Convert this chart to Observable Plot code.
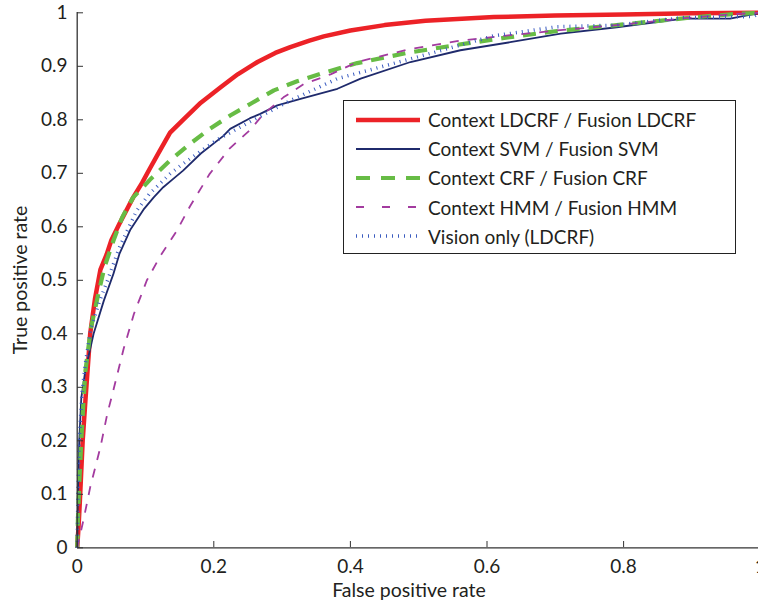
<!DOCTYPE html>
<html>
<head>
<meta charset="utf-8">
<script src="https://cdn.jsdelivr.net/npm/d3@7"></script>
<script src="https://cdn.jsdelivr.net/npm/@observablehq/plot@0.6"></script>
<style>
  html, body { margin: 0; padding: 0; background: #fff; }
  #wrap { position: relative; width: 758px; height: 606px; overflow: hidden; font-family: Lato, "DejaVu Sans", sans-serif; }
  #legend { position: absolute; left: 343px; top: 100px; width: 393px; height: 154px; border: 1.5px solid #222; background: #fff; box-sizing: border-box; }
  .row { position: absolute; left: 0; height: 29px; display: flex; align-items: center; }
  .row svg { margin-left: 12px; }
  .row span { margin-left: 8px; font-size: 19px; color: #231f20; white-space: nowrap; }
</style>
</head>
<body>
<div id="wrap"><div id="chart"></div><div id="legend"></div></div>
<script>
// ---- data ----
const seriesNames = ["Context LDCRF / Fusion LDCRF", "Context SVM / Fusion SVM", "Context CRF / Fusion CRF", "Context HMM / Fusion HMM", "Vision only (LDCRF)"];

const fprLDCRF = [0, 0.002, 0.004, 0.008, 0.012, 0.019, 0.026, 0.034, 0.043, 0.05, 0.062, 0.075, 0.082, 0.095, 0.106, 0.12, 0.136, 0.155, 0.181, 0.21, 0.235, 0.264, 0.29, 0.312, 0.34, 0.361, 0.4, 0.45, 0.51, 0.61, 0.7, 0.8, 0.9, 1.0];
const tprLDCRF = [0, 0.04, 0.09, 0.2, 0.275, 0.4, 0.465, 0.52, 0.548, 0.575, 0.606, 0.638, 0.655, 0.682, 0.708, 0.74, 0.776, 0.8, 0.832, 0.861, 0.885, 0.908, 0.925, 0.936, 0.948, 0.956, 0.967, 0.977, 0.985, 0.992, 0.995, 0.997, 0.999, 1.0];

const fprSVM = [0, 0.001, 0.003, 0.006, 0.012, 0.024, 0.039, 0.053, 0.062, 0.078, 0.097, 0.112, 0.126, 0.141, 0.155, 0.181, 0.214, 0.224, 0.253, 0.268, 0.293, 0.327, 0.381, 0.415, 0.488, 0.561, 0.634, 0.708, 0.79, 0.888, 0.956, 0.971, 1.0];
const tprSVM = [0, 0.1, 0.2, 0.28, 0.332, 0.4, 0.462, 0.512, 0.55, 0.595, 0.632, 0.655, 0.674, 0.69, 0.705, 0.737, 0.77, 0.783, 0.803, 0.811, 0.827, 0.839, 0.858, 0.877, 0.908, 0.93, 0.945, 0.961, 0.973, 0.989, 0.989, 0.993, 1.0];

const fprCRF = [0, 0.001, 0.003, 0.006, 0.009, 0.012, 0.02, 0.031, 0.04, 0.053, 0.066, 0.082, 0.095, 0.108, 0.136, 0.165, 0.194, 0.224, 0.254, 0.288, 0.322, 0.356, 0.41, 0.483, 0.556, 0.625, 0.703, 0.79, 0.898, 0.966, 1.0];
const tprCRF = [0, 0.05, 0.12, 0.2, 0.27, 0.33, 0.41, 0.475, 0.525, 0.574, 0.618, 0.655, 0.672, 0.69, 0.724, 0.755, 0.783, 0.808, 0.83, 0.855, 0.872, 0.886, 0.906, 0.925, 0.94, 0.953, 0.966, 0.977, 0.991, 0.998, 1.0];

const fprHMM = [0, 0.01, 0.019, 0.034, 0.044, 0.054, 0.068, 0.083, 0.093, 0.102, 0.122, 0.146, 0.165, 0.194, 0.223, 0.253, 0.273, 0.302, 0.332, 0.371, 0.41, 0.483, 0.556, 0.625, 0.703, 0.79, 0.898, 0.966, 1.0];
const tprHMM = [0, 0.057, 0.113, 0.188, 0.25, 0.3, 0.372, 0.437, 0.47, 0.5, 0.546, 0.593, 0.638, 0.699, 0.746, 0.781, 0.811, 0.842, 0.867, 0.885, 0.908, 0.931, 0.947, 0.957, 0.967, 0.977, 0.991, 0.998, 1.0];

const fprVision = [0, 0.001, 0.003, 0.007, 0.012, 0.02, 0.033, 0.043, 0.062, 0.087, 0.106, 0.136, 0.151, 0.175, 0.204, 0.254, 0.312, 0.381, 0.425, 0.537, 0.61, 0.703, 0.79, 0.888, 0.99, 1.0];
const tprVision = [0, 0.1, 0.2, 0.29, 0.345, 0.41, 0.462, 0.495, 0.562, 0.63, 0.662, 0.699, 0.714, 0.736, 0.762, 0.797, 0.836, 0.877, 0.892, 0.931, 0.957, 0.974, 0.977, 0.991, 0.993, 1.0];

const xTicks = [0, 0.2, 0.4, 0.6, 0.8, 1];
const yTicks = [0, 0.1, 0.2, 0.3, 0.4, 0.5, 0.6, 0.7, 0.8, 0.9, 1];
const xLabel = "False positive rate";
const yLabel = "True positive rate";

// ---- styles ----
const styles = [
  {stroke: "#ec2227", strokeWidth: 4.5, dash: null},
  {stroke: "#1f2a6c", strokeWidth: 1.8, dash: null},
  {stroke: "#67bc45", strokeWidth: 4.2, dash: "13,9"},
  {stroke: "#a33b9f", strokeWidth: 1.8, dash: "9,9"},
  {stroke: "#3b5cc0", strokeWidth: 3.5, dash: "1,5"}
];

const pairs = [[fprLDCRF, tprLDCRF], [fprSVM, tprSVM], [fprCRF, tprCRF], [fprHMM, tprHMM], [fprVision, tprVision]];
const tables = pairs.map(([xs, ys]) => xs.map((x, i) => ({fpr: x, tpr: ys[i]})));

const lineMarks = tables.map((t, i) => Plot.line(t, {
  x: "fpr", y: "tpr",
  stroke: styles[i].stroke, strokeWidth: styles[i].strokeWidth,
  strokeDasharray: styles[i].dash, strokeLinecap: "butt", strokeLinejoin: "round"
}));

const chart = Plot.plot({
  width: 758, height: 606,
  marginLeft: 77, marginRight: 0, marginTop: 12, marginBottom: 59,
  x: {domain: [0, 1], range: [76.7, 759.7]},
  y: {domain: [0, 1], range: [547.3, 12.3]},
  style: {fontFamily: "Lato, 'DejaVu Sans', sans-serif", fontSize: "19px", color: "#231f20", background: "#fff"},
  marks: [
    ...lineMarks,
    Plot.ruleX([0], {stroke: "#333", strokeWidth: 1.3}),
    Plot.ruleY([0], {stroke: "#333", strokeWidth: 1.3}),
    Plot.axisX(xTicks, {anchor: "bottom", tickSize: -6, tickPadding: 18, tickFormat: d => String(d), stroke: "#333", label: null}),
    Plot.axisY(yTicks, {anchor: "left", tickSize: -6, tickPadding: 16, tickFormat: d => String(d), stroke: "#333", label: null}),
    Plot.text([xLabel], {frameAnchor: "bottom", dx: -9, dy: 43, fontSize: 19.5, fill: "#231f20", textAnchor: "middle", lineAnchor: "middle"}),
    Plot.text([yLabel], {frameAnchor: "left", dx: -57, rotate: -90, fontSize: 19.5, fill: "#231f20", textAnchor: "middle", lineAnchor: "middle"})
  ]
});
document.getElementById("chart").appendChild(chart);

// ---- legend ----
const legend = document.getElementById("legend");
seriesNames.forEach((name, i) => {
  const row = document.createElement("div");
  row.className = "row";
  row.style.top = (4 + i * 29.2) + "px";
  const s = styles[i];
  row.innerHTML = `<svg width="64" height="10"><line x1="0" y1="5" x2="64" y2="5" stroke="${s.stroke}" stroke-width="${s.strokeWidth}" ${s.dash ? `stroke-dasharray="${i === 2 ? '14,11' : (i === 3 ? '8,18' : s.dash)}"` : ""}/></svg><span>${name}</span>`;
  legend.appendChild(row);
});
</script>
</body>
</html>
